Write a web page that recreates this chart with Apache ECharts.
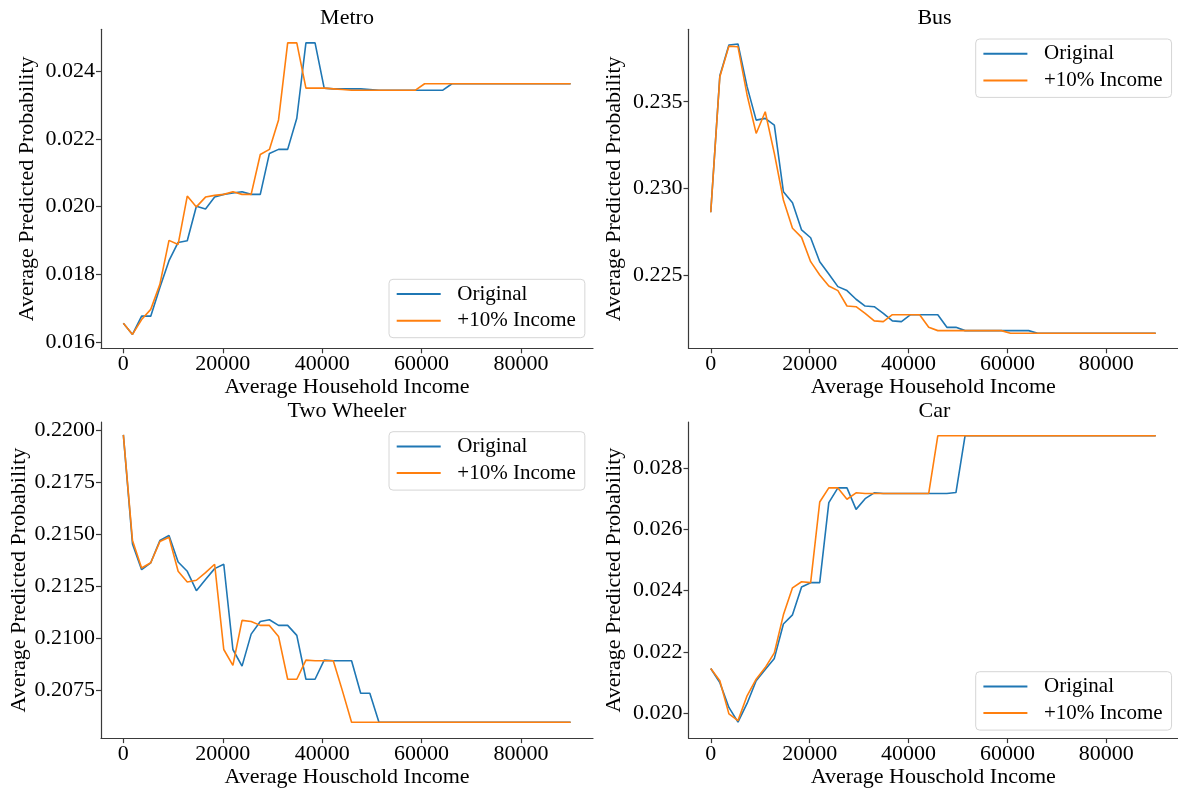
<!DOCTYPE html>
<html>
<head>
<meta charset="utf-8">
<script src="https://cdn.jsdelivr.net/npm/echarts@6/dist/echarts.min.js"></script>
<style>
html,body{margin:0;padding:0;background:#fff;}
#chart{width:1178px;height:789px;}
</style>
</head>
<body>
<div id="chart"></div>
<script>
// Income grid (x values)
var incomes = [0,1837,3673,5510,7347,9184,11020,12857,14694,16531,18367,20204,22041,23878,25714,27551,29388,31224,33061,34898,36735,38571,40408,42245,44082,45918,47755,49592,51429,53265,55102,56939,58776,60612,62449,64286,66122,67959,69796,71633,73469,75306,77143,78980,80816,82653,84490,86327,88163,90000];

var metroOriginal = [0.01655,0.01622,0.01676,0.01676,0.01761,0.01840,0.01894,0.01899,0.02001,0.01993,0.02028,0.02036,0.02040,0.02044,0.02036,0.02036,0.02157,0.02169,0.02169,0.02261,0.02484,0.02484,0.02350,0.02348,0.02348,0.02348,0.02348,0.02346,0.02344,0.02344,0.02344,0.02344,0.02344,0.02344,0.02344,0.02344,0.02363,0.02363,0.02363,0.02363,0.02363,0.02363,0.02363,0.02363,0.02363,0.02363,0.02363,0.02363,0.02363,0.02363];
var metroIncome10 = [0.01655,0.01622,0.01666,0.01696,0.01770,0.01900,0.01888,0.02031,0.01999,0.02028,0.02033,0.02036,0.02044,0.02036,0.02036,0.02154,0.02169,0.02256,0.02484,0.02484,0.02350,0.02350,0.02350,0.02348,0.02346,0.02344,0.02344,0.02344,0.02344,0.02344,0.02344,0.02344,0.02344,0.02363,0.02363,0.02363,0.02363,0.02363,0.02363,0.02363,0.02363,0.02363,0.02363,0.02363,0.02363,0.02363,0.02363,0.02363,0.02363,0.02363];

var busOriginal = [0.22862,0.23650,0.23827,0.23833,0.23587,0.23394,0.23404,0.23365,0.22981,0.22917,0.22760,0.22715,0.22577,0.22506,0.22433,0.22410,0.22360,0.22321,0.22317,0.22279,0.22235,0.22231,0.22271,0.22271,0.22271,0.22271,0.22198,0.22198,0.22179,0.22179,0.22179,0.22179,0.22179,0.22179,0.22179,0.22179,0.22164,0.22164,0.22164,0.22164,0.22164,0.22164,0.22164,0.22164,0.22164,0.22164,0.22164,0.22164,0.22164,0.22164];
var busIncome10 = [0.22862,0.23644,0.23821,0.23817,0.23539,0.23317,0.23442,0.23202,0.22933,0.22770,0.22717,0.22577,0.22500,0.22437,0.22410,0.22321,0.22317,0.22279,0.22235,0.22231,0.22271,0.22271,0.22271,0.22271,0.22198,0.22179,0.22179,0.22179,0.22179,0.22179,0.22179,0.22179,0.22179,0.22164,0.22164,0.22164,0.22164,0.22164,0.22164,0.22164,0.22164,0.22164,0.22164,0.22164,0.22164,0.22164,0.22164,0.22164,0.22164,0.22164];

var twOriginal = [0.21976,0.21452,0.21328,0.21361,0.21468,0.21492,0.21365,0.21320,0.21227,0.21281,0.21333,0.21354,0.20944,0.20864,0.21018,0.21079,0.21087,0.21060,0.21060,0.21012,0.20801,0.20801,0.20893,0.20890,0.20890,0.20890,0.20734,0.20734,0.20594,0.20594,0.20594,0.20594,0.20594,0.20594,0.20594,0.20594,0.20594,0.20594,0.20594,0.20594,0.20594,0.20594,0.20594,0.20594,0.20594,0.20594,0.20594,0.20594,0.20594,0.20594];
var twIncome10 = [0.21976,0.21468,0.21336,0.21361,0.21463,0.21484,0.21320,0.21269,0.21277,0.21314,0.21354,0.20944,0.20868,0.21084,0.21079,0.21060,0.21060,0.21007,0.20801,0.20801,0.20893,0.20890,0.20890,0.20890,0.20745,0.20594,0.20594,0.20594,0.20594,0.20594,0.20594,0.20594,0.20594,0.20594,0.20594,0.20594,0.20594,0.20594,0.20594,0.20594,0.20594,0.20594,0.20594,0.20594,0.20594,0.20594,0.20594,0.20594,0.20594,0.20594];

var carOriginal = [0.02146,0.02100,0.02019,0.01971,0.02032,0.02106,0.02143,0.02179,0.02291,0.02321,0.02412,0.02426,0.02426,0.02687,0.02735,0.02735,0.02665,0.02700,0.02719,0.02717,0.02717,0.02717,0.02717,0.02717,0.02717,0.02717,0.02717,0.02720,0.02905,0.02905,0.02905,0.02905,0.02905,0.02905,0.02905,0.02905,0.02905,0.02905,0.02905,0.02905,0.02905,0.02905,0.02905,0.02905,0.02905,0.02905,0.02905,0.02905,0.02905,0.02905];
var carIncome10 = [0.02146,0.02106,0.01998,0.01976,0.02057,0.02111,0.02149,0.02197,0.02321,0.02409,0.02429,0.02426,0.02689,0.02735,0.02735,0.02698,0.02719,0.02717,0.02717,0.02717,0.02717,0.02717,0.02717,0.02717,0.02717,0.02905,0.02905,0.02905,0.02905,0.02905,0.02905,0.02905,0.02905,0.02905,0.02905,0.02905,0.02905,0.02905,0.02905,0.02905,0.02905,0.02905,0.02905,0.02905,0.02905,0.02905,0.02905,0.02905,0.02905,0.02905];

// Tick labels
var xTicks = [0,20000,40000,60000,80000];
var metroTicks = [0.016,0.018,0.020,0.022,0.024];
var busTicks = [0.225,0.230,0.235];
var twTicks = [0.2075,0.2100,0.2125,0.2150,0.2175,0.2200];
var carTicks = [0.020,0.022,0.024,0.026,0.028];

var titles = ['Metro','Bus','Two Wheeler','Car'];
var xNames = ['Average Household Income','Average Household Income','Average Houschold Income','Average Houschold Income'];
var yName = 'Average Predicted Probability';
var seriesNames = ['Original','+10% Income'];

var FONT = '"Liberation Serif", "Times New Roman", serif';
var AXIS_COLOR = '#3a3a3a';
var BLUE = '#1f77b4', ORANGE = '#ff7f0e';

var panels = [
  {grid:{left:101, top:29.3}, yMin:0.01581, yMax:0.02524, ticks:metroTicks, dec:3, orig:metroOriginal, inc:metroIncome10, legend:{left:389, top:279.3}},
  {grid:{left:688.5, top:29.3}, yMin:0.22077, yMax:0.23918, ticks:busTicks, dec:3, orig:busOriginal, inc:busIncome10, legend:{left:975.7, top:39}},
  {grid:{left:101, top:422}, yMin:0.20518, yMax:0.22038, ticks:twTicks, dec:4, orig:twOriginal, inc:twIncome10, legend:{left:389, top:431.7}},
  {grid:{left:688.5, top:422}, yMin:0.01919, yMax:0.02950, ticks:carTicks, dec:3, orig:carOriginal, inc:carIncome10, legend:{left:975.7, top:671.7}}
];
var W = 492, H = 319;

function pairs(ys){ return incomes.map(function(x,i){ return [x, ys[i]]; }); }

var option = {
  animation:false,
  backgroundColor:'#ffffff',
  textStyle:{fontFamily:FONT},
  title:[], grid:[], xAxis:[], yAxis:[], series:[], legend:[]
};

panels.forEach(function(p, k){
  option.grid.push({left:p.grid.left, top:p.grid.top, width:W, height:H, containLabel:false});
  option.title.push({
    text:titles[k], left:p.grid.left + W/2, top:p.grid.top - 22, textAlign:'center', padding:0,
    textStyle:{fontFamily:FONT, fontSize:22, fontWeight:'normal', color:'#000'}
  });
  option.xAxis.push({
    type:'value', gridIndex:k, min:-4500, max:94500,
    name:xNames[k], nameLocation:'middle', nameGap:22,
    nameTextStyle:{fontFamily:FONT, fontSize:22, color:'#000'},
    axisLine:{show:true, onZero:false, lineStyle:{color:AXIS_COLOR, width:1.2}},
    axisTick:{show:true, length:5, customValues:xTicks, lineStyle:{color:AXIS_COLOR, width:1.2}},
    axisLabel:{show:true, customValues:xTicks, margin:5, fontFamily:FONT, fontSize:22, color:'#000',
      formatter:function(v){ return String(Math.round(v)); }},
    splitLine:{show:false}
  });
  option.yAxis.push({
    type:'value', gridIndex:k, min:p.yMin, max:p.yMax,
    name:yName, nameLocation:'middle', nameGap:63, nameRotate:90,
    nameTextStyle:{fontFamily:FONT, fontSize:22, color:'#000'},
    axisLine:{show:true, onZero:false, lineStyle:{color:AXIS_COLOR, width:1.2}},
    axisTick:{show:true, length:5, customValues:p.ticks, lineStyle:{color:AXIS_COLOR, width:1.2}},
    axisLabel:{show:true, customValues:p.ticks, margin:6, fontFamily:FONT, fontSize:22, color:'#000',
      formatter:(function(d){ return function(v){ return v.toFixed(d); }; })(p.dec)},
    splitLine:{show:false}
  });
  option.series.push({
    name:seriesNames[0], type:'line', xAxisIndex:k, yAxisIndex:k, data:pairs(p.orig),
    showSymbol:false, symbol:'none', lineStyle:{color:BLUE, width:1.6}, itemStyle:{color:BLUE}, z:2
  });
  option.series.push({
    name:seriesNames[1], type:'line', xAxisIndex:k, yAxisIndex:k, data:pairs(p.inc),
    showSymbol:false, symbol:'none', lineStyle:{color:ORANGE, width:1.6}, itemStyle:{color:ORANGE}, z:3
  });
  option.legend.push({
    data:seriesNames, orient:'vertical', left:p.legend.left, top:p.legend.top,
    icon:'rect', itemWidth:44, itemHeight:2, itemGap:5.7,
    padding:[4.2, 9, 6.5, 7.7],
    backgroundColor:'rgba(255,255,255,0.8)', borderColor:'#d6d6d6', borderWidth:1, borderRadius:4,
    selectedMode:false,
    textStyle:{fontFamily:FONT, fontSize:21, lineHeight:21, color:'#000', padding:[0,0,0,11.6]}
  });
});

var chart = echarts.init(document.getElementById('chart'), null, {renderer:'canvas'});
chart.setOption(option);
</script>
</body>
</html>
